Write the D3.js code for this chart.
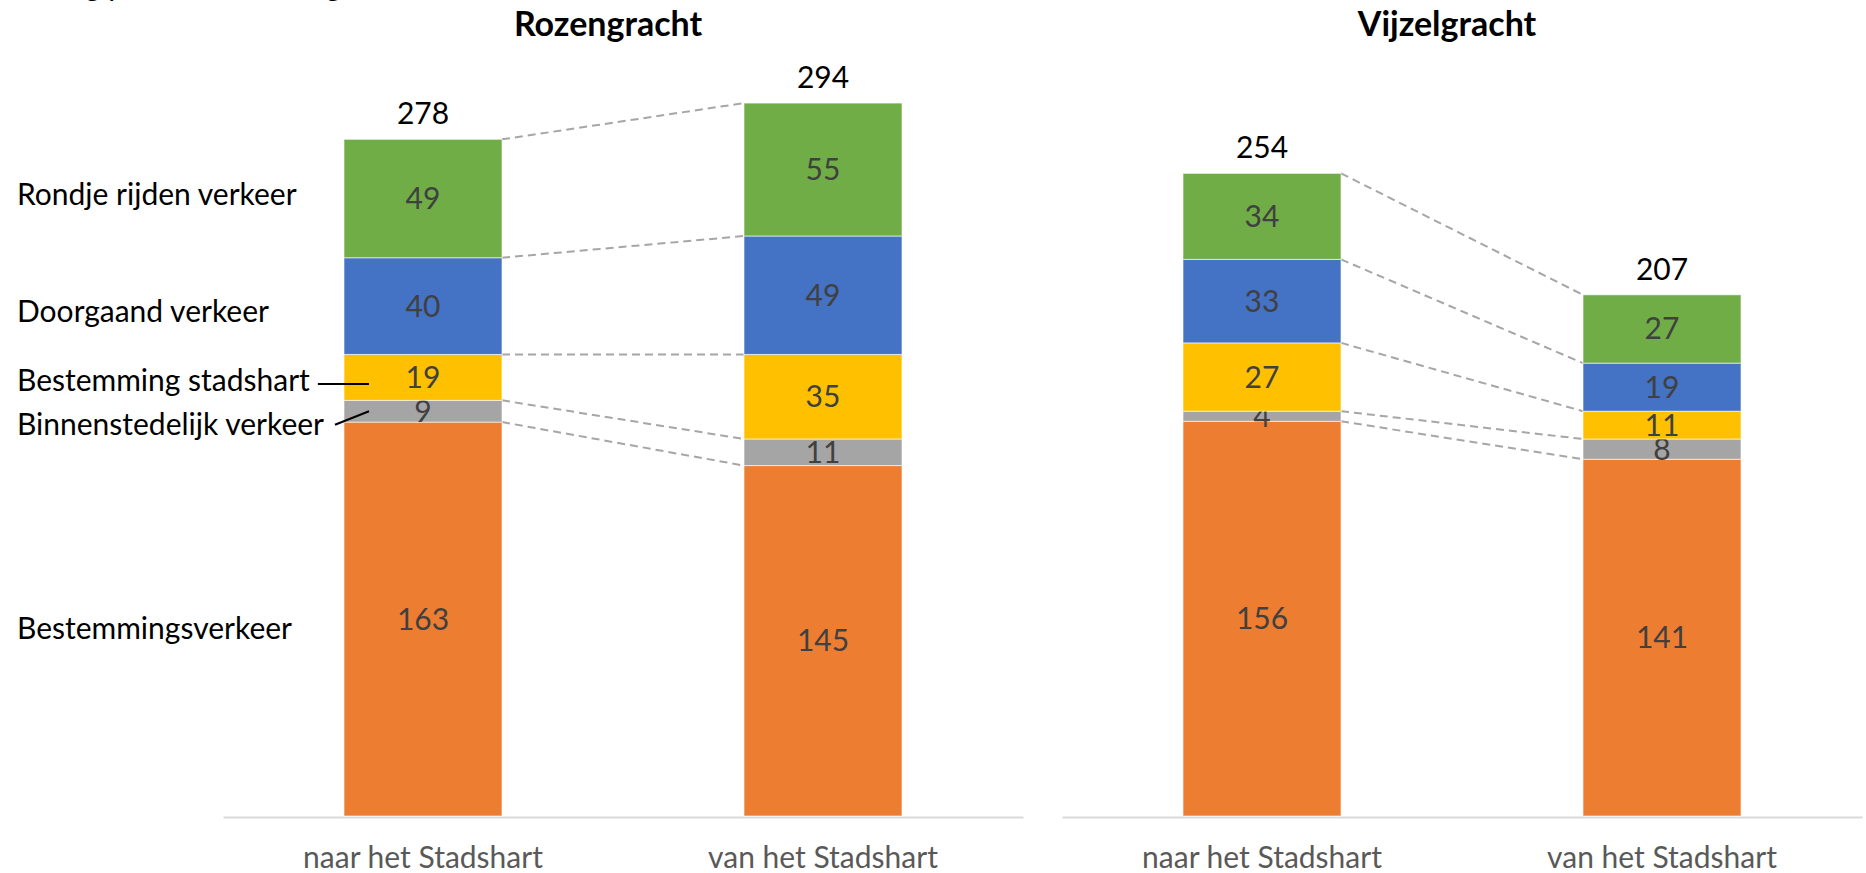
<!DOCTYPE html>
<html lang="nl">
<head>
  <meta charset="UTF-8">
  <title>Rozengracht en Vijzelgracht</title>
  <script src="https://d3js.org/d3.v7.min.js"></script>
  <style>
    html, body { margin: 0; padding: 0; background: #fff; }
    svg { display: block; font-family: Lato, "Open Sans", sans-serif; }
  </style>
</head>
<body>
  <div id="chart"></div>
  <script>
    // data
    var categories = ["naar het Stadshart", "van het Stadshart"];
    var series = ["Bestemmingsverkeer", "Binnenstedelijk verkeer", "Bestemming stadshart", "Doorgaand verkeer", "Rondje rijden verkeer"];
    var rozengrachtNaar = [163, 9, 19, 40, 49];
    var rozengrachtVan = [145, 11, 35, 49, 55];
    var rozengrachtTotals = [278, 294];
    var vijzelgrachtNaar = [156, 4, 27, 33, 34];
    var vijzelgrachtVan = [141, 8, 11, 19, 27];
    var vijzelgrachtTotals = [254, 207];

    var colors = ["#ED7D31", "#A5A5A5", "#FFC000", "#4472C4", "#70AD47"];

    var width = 1866, height = 873;
    var baseline = 816;
    var fontSize = 30;

    var panels = [
      { title: "Rozengracht", values: [rozengrachtNaar, rozengrachtVan], totals: rozengrachtTotals, x0: 223, x1: 1023, yTop: 91 },
      { title: "Vijzelgracht", values: [vijzelgrachtNaar, vijzelgrachtVan], totals: vijzelgrachtTotals, x0: 1062, x1: 1862, yTop: 57 }
    ];

    var svg = d3.select("#chart")
      .append("svg")
      .attr("width", width)
      .attr("height", height);

    // titel bovenaan, grotendeels buiten beeld
    svg.append("text")
      .attr("x", 17)
      .attr("y", -4)
      .style("font-size", fontSize + "px")
      .style("fill", "#000")
      .text("Telling per verkeerscategorie");

    var leftScales = null;

    panels.forEach(function (p, pi) {
      var x = d3.scaleBand()
        .domain(categories)
        .range([p.x0, p.x1])
        .paddingInner(0.605)
        .paddingOuter(0.3025);

      var y = d3.scaleLinear()
        .domain([0, 300])
        .range([baseline, p.yTop]);

      var rows = categories.map(function (c, i) {
        var r = { cat: c };
        series.forEach(function (s, j) { r[s] = p.values[i][j]; });
        return r;
      });
      var stacked = d3.stack().keys(series)(rows);

      if (pi === 0) leftScales = { x: x, y: y, stacked: stacked };

      var g = svg.append("g");

      // x-as
      var axis = g.append("g")
        .attr("transform", "translate(0," + (baseline + 1) + ")")
        .call(d3.axisBottom(x).tickSize(0).tickPadding(30));
      axis.select(".domain")
        .attr("stroke", "#D9D9D9")
        .attr("stroke-width", 2);
      axis.selectAll("text")
        .style("font-family", "Lato, 'Open Sans', sans-serif")
        .style("font-size", fontSize + "px")
        .style("fill", "#595959");

      // titel
      g.append("text")
        .attr("x", (p.x0 + p.x1) / 2 - 15)
        .attr("y", 36)
        .attr("text-anchor", "middle")
        .style("font-size", "34px")
        .style("font-weight", "bold")
        .style("fill", "#000")
        .text(p.title);

      // verbindingslijnen
      g.selectAll(".connector")
        .data(stacked)
        .enter()
        .append("line")
        .attr("class", "connector")
        .attr("x1", x(categories[0]) + x.bandwidth())
        .attr("x2", x(categories[1]))
        .attr("y1", function (d) { return y(d[0][1]); })
        .attr("y2", function (d) { return y(d[1][1]); })
        .attr("stroke", "#A6A6A6")
        .attr("stroke-width", 2)
        .attr("stroke-dasharray", "8,5");

      // staven
      var layer = g.selectAll(".layer")
        .data(stacked)
        .enter()
        .append("g")
        .attr("class", "layer")
        .attr("fill", function (d, j) { return colors[j]; });

      layer.selectAll("rect")
        .data(function (d) { return d; })
        .enter()
        .append("rect")
        .attr("x", function (d) { return x(d.data.cat); })
        .attr("width", x.bandwidth())
        .attr("y", function (d) { return y(d[1]); })
        .attr("height", function (d) { return y(d[0]) - y(d[1]); })
        .attr("stroke", "#fff")
        .attr("stroke-width", 1)
        .attr("stroke-opacity", 0.6);

      layer.selectAll("text")
        .data(function (d, j) { return d.map(function (v, i) { return { seg: v, value: p.values[i][j] }; }); })
        .enter()
        .append("text")
        .attr("x", function (d) { return x(d.seg.data.cat) + x.bandwidth() / 2; })
        .attr("y", function (d) { return y((d.seg[0] + d.seg[1]) / 2); })
        .attr("dy", "0.35em")
        .attr("text-anchor", "middle")
        .style("font-size", fontSize + "px")
        .style("fill", "#404040")
        .text(function (d) { return d.value; });

      // totalen
      g.selectAll(".total")
        .data(categories)
        .enter()
        .append("text")
        .attr("class", "total")
        .attr("x", function (c) { return x(c) + x.bandwidth() / 2; })
        .attr("y", function (c, i) { return y(stacked[series.length - 1][i][1]) - 15; })
        .attr("text-anchor", "middle")
        .style("font-size", fontSize + "px")
        .style("fill", "#000")
        .text(function (c, i) { return p.totals[i]; });
    });

    // legenda-labels links, naast de eerste staaf
    var labelNudge = [9, 13, 3, 5, -4];
    var bar1 = leftScales.x(categories[0]);
    series.forEach(function (s, j) {
      var seg = leftScales.stacked[j][0];
      var ty = leftScales.y((seg[0] + seg[1]) / 2) + fontSize * 0.35 + labelNudge[j];
      var t = svg.append("text")
        .attr("x", 17)
        .attr("y", ty)
        .style("font-size", fontSize + "px")
        .style("fill", "#000")
        .text(s);

      // aanwijslijnen voor de dunne segmenten
      if (j === 1 || j === 2) {
        var end = 17 + t.node().getComputedTextLength();
        svg.append("line")
          .attr("x1", end + (j === 1 ? 11 : 8))
          .attr("y1", ty - (j === 1 ? 10 : 7))
          .attr("x2", bar1 + 25)
          .attr("y2", j === 1 ? leftScales.y((seg[0] + seg[1]) / 2) : ty - 7)
          .attr("stroke", "#000")
          .attr("stroke-width", 2);
      }
    });
  </script>
</body>
</html>
